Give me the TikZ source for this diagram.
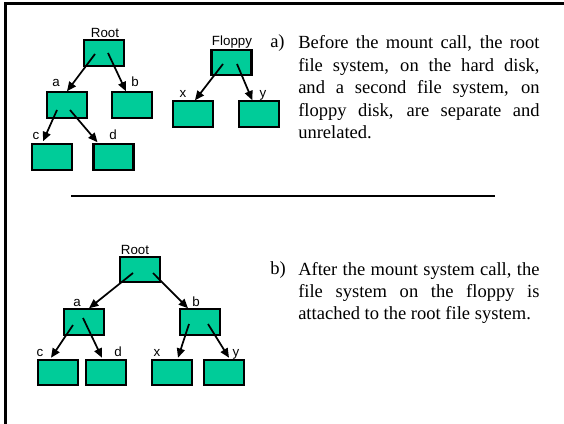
\documentclass[tikz,border=0pt]{standalone}
\usepackage{fontspec}
\setmainfont{Liberation Serif}
\newfontfamily\arialfont{Liberation Sans}
\usetikzlibrary{arrows.meta}
\definecolor{boxgreen}{RGB}{0,204,153}
\tikzset{
	box/.style={draw, line width=1.6pt, fill=boxgreen, minimum width=30pt, minimum height=19pt, inner sep=0pt},
	lbl/.style={anchor=base, inner sep=0pt, font=\arialfont\fontsize{10}{12}\selectfont},
	link/.style={line width=1.3pt, -{Triangle[length=7pt,width=6pt]}},
	para/.style={anchor=north west, inner sep=0pt, text width=181pt, align=justify,
		font={\fontsize{13.9}{16.8}\selectfont\tolerance=10000\relax}},
	tag/.style={anchor=base west, inner sep=0pt, font=\fontsize{13.9}{16.8}\selectfont},
}
\begin{document}
\begin{tikzpicture}[x=0.75pt, y=-0.75pt]
	\useasboundingbox (0,0) rectangle (564,424);
	\draw[line width=2.2pt] (5.5,430) -- (5.5,3.5) -- (570,3.5);
	\draw[line width=1.5pt] (71,196) -- (495,196);
	
	% a) before the mount
	\draw (104,53)   node[box] (root1) {};
	\draw (67,105)   node[box] (a1) {};
	\draw (132,105)  node[box] (b1) {};
	\draw (52,157)   node[box] (c1) {};
	\draw (113.5,157) node[box] (d1) {};
	\draw (231.5,62.5) node[box] (fl1) {};
	\draw (193,114)  node[box] (x1) {};
	\draw (259,114)  node[box] (y1) {};
	
	\draw (105,37.7) node[lbl] (lroot1) {Root};
	\draw (232,46)   node[lbl] (lfl1) {Floppy};
	\draw (56,87)    node[lbl] (la1) {a};
	\draw (135,87)   node[lbl] (lb1) {b};
	\draw (36,140)   node[lbl] (lc1) {c};
	\draw (113,140)  node[lbl] (ld1) {d};
	\draw (183,98)   node[lbl] (lx1) {x};
	\draw (263,98)   node[lbl] (ly1) {y};
	
	\draw[link] ([shift={(-9,1)}]root1.center) -- (a1.north);
	\draw[link] ([shift={(4,0)}]root1.center) -- ([xshift=-4.5pt]b1.north);
	\draw[link] ([shift={(-10,5)}]a1.center) -- ([shift={(-9,-2)}]c1.north);
	\draw[link] ([shift={(3,5)}]a1.center) -- ([shift={(-16,-1)}]d1.north);
	\draw[link] ([shift={(-8.5,1.5)}]fl1.center) -- ([xshift=1.5pt]x1.north);
	\draw[link] ([shift={(5.5,1.5)}]fl1.center) -- ([xshift=-5pt]y1.north);
	
	\draw (270,48) node[tag] (ta) {a)};
	\draw (298,35.5) node[para] (pa) {Before the mount call, the root\linebreak
		file system, on the hard disk,\linebreak and a second file system, on\linebreak
		floppy disk, are separate and\linebreak unrelated.};
	
	% b) after the mount
	\draw (140,269.5) node[box] (root2) {};
	\draw (84,322)   node[box] (a2) {};
	\draw (200,322)  node[box] (b2) {};
	\draw (58,372.5) node[box] (c2) {};
	\draw (106,372.5) node[box] (d2) {};
	\draw (172,372.5) node[box] (x2) {};
	\draw (224,372.5) node[box] (y2) {};
	
	\draw (135,254)  node[lbl] (lroot2) {Root};
	\draw (77,306)   node[lbl] (la2) {a};
	\draw (196,306)  node[lbl] (lb2) {b};
	\draw (40,356.7) node[lbl] (lc2) {c};
	\draw (118,356.7) node[lbl] (ld2) {d};
	\draw (157,356.7) node[lbl] (lx2) {x};
	\draw (236,356.7) node[lbl] (ly2) {y};
	
	\draw[link] ([shift={(-7,3.5)}]root2.center) -- ([xshift=3.75pt]a2.north);
	\draw[link] ([shift={(13,3.5)}]root2.center) -- ([xshift=-9pt]b2.north);
	\draw[link] ([shift={(-11,3)}]a2.center) -- ([shift={(-7,-1)}]c2.north);
	\draw[link] ([shift={(-1,-4)}]a2.center) -- ([shift={(-4,-1)}]d2.north);
	\draw[link] ([shift={(-11,2)}]b2.center) -- ([shift={(6,-1)}]x2.north);
	\draw[link] ([shift={(8,2)}]b2.center) -- ([shift={(5,-1)}]y2.north);
	
	\draw (270,274.3) node[tag] (tb) {b)};
	\draw (298,261.8) node[para] (pb) {After the mount system call, the\linebreak
		file system on the floppy is\linebreak attached to the root file system.};
\end{tikzpicture}
\end{document}
